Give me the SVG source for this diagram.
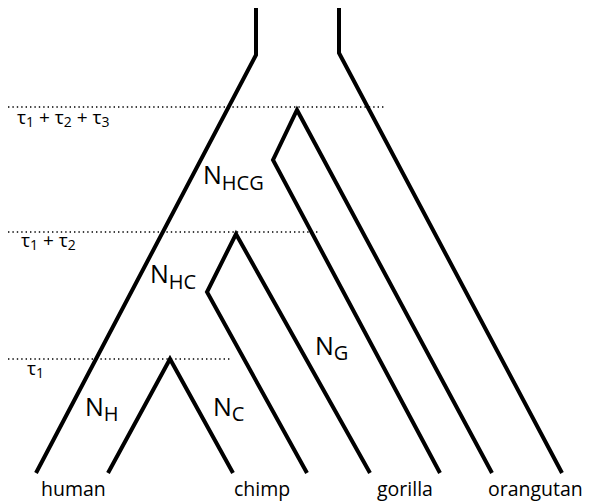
<svg xmlns="http://www.w3.org/2000/svg" width="590" height="501" viewBox="0 0 590 501">
<style>
.br{fill:none;stroke:#000;stroke-width:4;stroke-linejoin:miter;stroke-linecap:butt}
.dot{fill:none;stroke:#000;stroke-width:1.4;stroke-dasharray:1.4 3}
text{font-family:"Open Sans","Noto Sans",sans-serif;fill:#000}
.tau{font-size:19px}
.sub{font-size:14px}
.nl{font-size:25px}
.ns{font-size:20px}
.sp{font-size:19.5px}
</style>
<rect width="590" height="501" fill="#fff"/>
<g id="time-lines">
<line class="dot" x1="8" y1="107" x2="385" y2="107"/>
<line class="dot" x1="8" y1="232" x2="318" y2="232"/>
<line class="dot" x1="8" y1="359" x2="231" y2="359"/>
<text class="tau" x="17" y="124">τ<tspan class="sub" dy="3">1</tspan><tspan dy="-3"> + τ</tspan><tspan class="sub" dy="3">2</tspan><tspan dy="-3"> + τ</tspan><tspan class="sub" dy="3">3</tspan></text>
<text class="tau" x="21" y="247">τ<tspan class="sub" dy="3">1</tspan><tspan dy="-3"> + τ</tspan><tspan class="sub" dy="3">2</tspan></text>
<text class="tau" x="27" y="375">τ<tspan class="sub" dy="3">1</tspan></text>
</g>
<g id="connectors">
<path class="br" d="M256,8 L256,55 L36,473"/>
<path class="br" d="M339,8 L339,53 L562,473"/>
<path class="br" d="M440,473 L273,160 L297,110 L492,473"/>
<path class="br" d="M307,473 L207,292 L236,234 L370,473"/>
<path class="br" d="M108,473 L170,359 L233,473"/>
</g>
<g id="node-HCG"><text class="nl" x="203" y="184">N<tspan class="ns" dy="6">HCG</tspan></text></g>
<g id="node-HC"><text class="nl" x="150" y="283">N<tspan class="ns" dy="6">HC</tspan></text></g>
<g id="node-G"><text class="nl" x="315" y="355">N<tspan class="ns" dy="5">G</tspan></text></g>
<g id="node-C"><text class="nl" x="213" y="416">N<tspan class="ns" dy="5">C</tspan></text></g>
<g id="node-H"><text class="nl" x="85" y="416">N<tspan class="ns" dy="5">H</tspan></text></g>
<g id="human"><text class="sp" x="41" y="496">human</text></g>
<g id="chimp"><text class="sp" x="234" y="496">chimp</text></g>
<g id="gorilla"><text class="sp" x="377" y="496">gorilla</text></g>
<g id="orangutan"><text class="sp" x="488" y="496">orangutan</text></g>
</svg>
